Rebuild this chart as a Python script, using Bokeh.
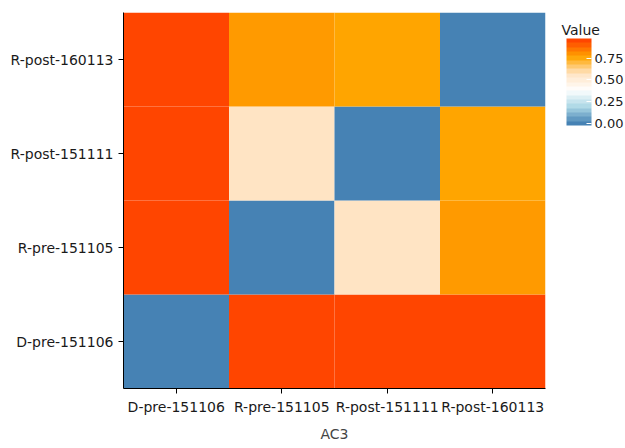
from bokeh.plotting import figure
from bokeh.models import (LinearColorMapper, ColorBar, ColumnDataSource, FixedTicker,
                          PrintfTickFormatter, Label)
from bokeh.embed import file_html
from bokeh.resources import INLINE

samples = ["D-pre-151106", "R-pre-151105", "R-post-151111", "R-post-160113"]
# rows: y sample (bottom to top), columns: x sample
values = [
    [0.00, 0.95, 0.95, 0.95],  # D-pre-151106
    [0.95, 0.00, 0.57, 0.78],  # R-pre-151105
    [0.95, 0.57, 0.00, 0.76],  # R-post-151111
    [0.95, 0.78, 0.76, 0.00],  # R-post-160113
]
colorbar_ticks = [0.0, 0.25, 0.5, 0.75]
value_min, value_max = 0.0, 0.95

anchors = ["#4682B4", "#ADD8E6", "#FFFFFF", "#FFE4C4", "#FFA500", "#FF4500"]


def hex2rgb(h):
    h = h.lstrip("#")
    return [int(h[i:i + 2], 16) for i in (0, 2, 4)]


RGBS = [hex2rgb(c) for c in anchors]


def color_at(t):
    segs = len(RGBS) - 1
    t = min(max(t, 0.0), 1.0) * segs
    i = min(int(t), segs - 1)
    f = t - i
    c = [round(RGBS[i][j] + (RGBS[i + 1][j] - RGBS[i][j]) * f) for j in range(3)]
    return "#%02x%02x%02x" % tuple(c)


palette = [color_at(k / 255) for k in range(256)]
nbin = 20
bar_palette = [color_at(k / (nbin - 1)) for k in range(nbin)]

xs, ys, vs = [], [], []
for i, yname in enumerate(samples):
    for j, xname in enumerate(samples):
        xs.append(xname)
        ys.append(yname)
        vs.append(values[i][j])
src = ColumnDataSource(dict(x=xs, y=ys, v=vs))

mapper = LinearColorMapper(palette=palette, low=value_min, high=value_max)
# the legend bar is drawn as 20 bins centred on evenly spaced values
half_bin = (value_max - value_min) / (nbin - 1) / 2
bar_mapper = LinearColorMapper(palette=bar_palette, low=value_min - half_bin, high=value_max + half_bin)

p = figure(width=625, height=448, x_range=samples, y_range=samples,
           output_backend="svg", toolbar_location=None,
           min_border_left=123, min_border_right=80, min_border_top=12, min_border_bottom=60)
p.rect(x="x", y="y", width=1, height=1, source=src,
       fill_color={"field": "v", "transform": mapper}, line_color=None)

p.grid.visible = False
p.outline_line_color = None
font = "DejaVu Sans"
for ax in (p.xaxis[0], p.yaxis[0]):
    ax.axis_line_color = "black"
    ax.major_tick_line_color = "black"
    ax.major_tick_out = 5
    ax.major_tick_in = 0
    ax.minor_tick_line_color = None
    ax.major_label_text_font = font
    ax.major_label_text_font_size = "14px"
    ax.major_label_text_color = "#1a1a1a"
    ax.major_label_standoff = 5
p.xaxis.axis_label = "AC3"
p.xaxis.axis_label_text_font = font
p.xaxis.axis_label_text_font_size = "14px"
p.xaxis.axis_label_text_font_style = "normal"
p.xaxis.axis_label_standoff = 8

cb = ColorBar(color_mapper=bar_mapper, ticker=FixedTicker(ticks=colorbar_ticks),
              formatter=PrintfTickFormatter(format="%.2f"),
              orientation="vertical", title=None,
              width=25, height=87,
              major_label_text_font=font, major_label_text_font_size="13px",
              major_label_text_color="#1a1a1a",
              major_tick_line_color="white", major_tick_in=5, major_tick_out=0,
              bar_line_color=None, border_line_color=None, background_fill_alpha=0,
              padding=0, margin=0, label_standoff=3, location=(443, 263))
p.add_layout(cb, "center")

title = Label(x=16, y=351, x_units="screen", y_units="screen", text="Value",
              text_font=font, text_font_size="14px", text_color="#1a1a1a",
              text_baseline="bottom", text_align="left")
p.add_layout(title, "right")

open("out.html", "w").write(file_html(p, INLINE))
